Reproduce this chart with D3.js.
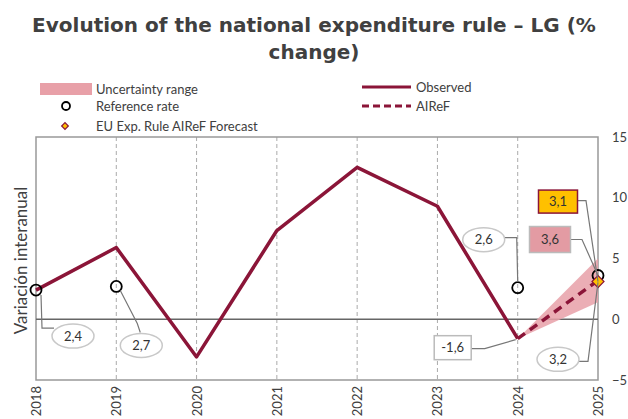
<!DOCTYPE html>
<html><head><meta charset="utf-8">
<script src="https://cdn.jsdelivr.net/npm/d3@7"></script>
<style>body{margin:0;background:#fff}svg{display:block}</style>
</head><body><svg id="c" width="628" height="419"></svg>
<script>
const years = [2018, 2019, 2020, 2021, 2022, 2023, 2024, 2025];
const observedYears = [2018, 2019, 2020, 2021, 2022, 2023, 2024];
const observed = [2.4, 5.9, -3.1, 7.3, 12.5, 9.3, -1.6];
const airefYears = [2024, 2025];
const airef = [-1.6, 3.2];
const bandLow = [-1.6, 1.4];
const bandHigh = [-1.6, 5.0];
const refYears = [2018, 2019, 2024, 2025];
const refRate = [2.4, 2.7, 2.6, 3.6];
const euYear = [2025];
const euForecast = [3.1];
const yTicks = [-5, 0, 5, 10, 15];

const svg = d3.select('#c');
const W = 628, H = 419;
const M = {l: 36, r: 30, t: 137, b: 39};
const x = d3.scaleLinear().domain([2018, 2025]).range([M.l, W - M.r]);
const y = d3.scaleLinear().domain([-5, 15]).range([H - M.b, M.t]);
const RED = '#8B1538', TXT = '#404040';
const FONT = 'Lato, "Open Sans", sans-serif';

// title
const title = svg.append('text').attr('text-anchor', 'middle').attr('fill', TXT)
  .attr('font-family', '"DejaVu Sans", sans-serif').attr('font-weight', 'bold').attr('font-size', 20);
title.append('tspan').attr('x', 314).attr('y', 32).text('Evolution of the national expenditure rule – LG (%');
title.append('tspan').attr('x', 314).attr('y', 59).text('change)');

// legend
const lg = svg.append('g').attr('font-family', FONT).attr('font-size', 13).attr('fill', TXT);
lg.append('rect').attr('x', 40).attr('y', 83).attr('width', 52).attr('height', 12).attr('fill', '#E8A0A8');
lg.append('text').attr('x', 96).attr('y', 94).text('Uncertainty range');
lg.append('circle').attr('cx', 66).attr('cy', 106).attr('r', 4).attr('fill', 'none').attr('stroke', '#000').attr('stroke-width', 1.8);
lg.append('text').attr('x', 96).attr('y', 111).text('Reference rate');
lg.append('path').attr('d', d3.symbol(d3.symbolSquare, 22)()).attr('transform', 'translate(65,126) rotate(45)')
  .attr('fill', '#FFC000').attr('stroke', RED).attr('stroke-width', 1.2);
lg.append('text').attr('x', 96).attr('y', 131).text('EU Exp. Rule AIReF Forecast');
lg.append('line').attr('x1', 362).attr('x2', 411).attr('y1', 87).attr('y2', 87).attr('stroke', RED).attr('stroke-width', 3);
lg.append('text').attr('x', 416).attr('y', 92).text('Observed');
lg.append('line').attr('x1', 362).attr('x2', 411).attr('y1', 106).attr('y2', 106).attr('stroke', RED).attr('stroke-width', 3).attr('stroke-dasharray', '7,4');
lg.append('text').attr('x', 416).attr('y', 111).text('AIReF');

// vertical dashed grid
svg.append('g').selectAll('line').data(years.slice(1, -1)).join('line')
  .attr('x1', d => x(d)).attr('x2', d => x(d)).attr('y1', M.t).attr('y2', H - M.b)
  .attr('stroke', '#AAAAAA').attr('stroke-width', 1).attr('stroke-dasharray', '4,3');

// frame
svg.append('rect').attr('x', M.l).attr('y', M.t).attr('width', W - M.r - M.l).attr('height', H - M.b - M.t)
  .attr('fill', 'none').attr('stroke', '#999').attr('stroke-width', 1.5);
// zero line
svg.append('line').attr('x1', M.l).attr('x2', W - M.r).attr('y1', y(0)).attr('y2', y(0))
  .attr('stroke', '#666').attr('stroke-width', 1.5);

// right axis labels
const yAxis = d3.axisRight(y).tickValues(yTicks).tickSize(0).tickPadding(14).tickFormat(d3.format('d'));
const ya = svg.append('g').attr('transform', `translate(${W - M.r},0)`).call(yAxis);
ya.select('.domain').remove();
ya.selectAll('text').attr('font-family', FONT).attr('font-size', 13).attr('fill', TXT);

// x axis labels rotated
const xAxis = d3.axisBottom(x).tickValues(years).tickSize(0).tickFormat(d3.format('d'));
const xa = svg.append('g').attr('transform', `translate(0,${H - M.b})`).call(xAxis);
xa.select('.domain').remove();
xa.selectAll('text').attr('font-family', FONT).attr('font-size', 13).attr('fill', TXT)
  .attr('transform', 'rotate(-90)').attr('text-anchor', 'end').attr('dy', '0.35em').attr('x', -6).attr('y', 0);

// y title
svg.append('text').attr('transform', `translate(27,${(M.t + H - M.b) / 2 + 2}) rotate(-90)`)
  .attr('text-anchor', 'middle').attr('font-family', FONT).attr('font-size', 17).attr('fill', TXT)
  .text('Variación interanual');

// uncertainty band
const band = airefYears.map((yr, i) => ({yr, lo: bandLow[i], hi: bandHigh[i]}));
svg.append('path').datum(band).attr('fill', '#E8A0A8').attr('opacity', 0.85)
  .attr('d', d3.area().x(d => x(d.yr)).y0(d => y(d.lo)).y1(d => y(d.hi)));

// observed line
const line = d3.line().x(d => x(d[0])).y(d => y(d[1]));
svg.append('path').datum(observedYears.map((yr, i) => [yr, observed[i]]))
  .attr('fill', 'none').attr('stroke', RED).attr('stroke-width', 3.5).attr('stroke-linejoin', 'round').attr('d', line);
svg.append('path').datum(airefYears.map((yr, i) => [yr, airef[i]]))
  .attr('fill', 'none').attr('stroke', RED).attr('stroke-width', 3.5).attr('stroke-dasharray', '9,6').attr('d', line);

// reference circles
svg.append('g').selectAll('circle').data(refYears.map((yr, i) => [yr, refRate[i]])).join('circle')
  .attr('cx', d => x(d[0])).attr('cy', d => y(d[1])).attr('r', 5.5)
  .attr('fill', 'none').attr('stroke', '#000').attr('stroke-width', 1.8);

// EU forecast diamond
svg.append('g').selectAll('path').data(euYear.map((yr, i) => [yr, euForecast[i]])).join('path')
  .attr('d', d3.symbol(d3.symbolSquare, 72)())
  .attr('transform', d => `translate(${x(d[0])},${y(d[1])}) rotate(45)`)
  .attr('fill', '#FFC000').attr('stroke', RED).attr('stroke-width', 1.2);

// annotations: value, data point, label offset (dx,dy) from point, shape
const fmt = v => String(v).replace('.', ',');
const ann = [
  {yr: 2018, v: refRate[0], dx: 37, dy: 46, shape: 'ell', lead: (p, c) => [[p[0] + 5, p[1] + 5], [p[0] + 6, c[1] - 8], [c[0] - 19, c[1] - 8]]},
  {yr: 2019, v: refRate[1], dx: 25, dy: 59, shape: 'ell', lead: (p, c) => [[p[0] + 4, p[1] + 4], [c[0] - 4, c[1] - 22], [c[0] - 1, c[1] - 13]]},
  {yr: 2024, v: refRate[2], dx: -34, dy: -48, shape: 'ell', lead: (p, c) => [[c[0] + 21, c[1] - 2], [p[0] - 1, c[1] - 2], [p[0], p[1] - 6]]},
  {yr: 2024, v: observed[6], dx: -65, dy: 9, shape: 'rect', w: 37, h: 24, lead: (p, c) => [[c[0] + 18.5, c[1] + 1], [c[0] + 32, c[1] + 1], [p[0] - 2, p[1] + 1]]},
  {yr: 2025, v: airef[1], dx: -40, dy: 79, shape: 'ell', lead: (p, c) => [[c[0] + 21, c[1] + 2], [c[0] + 30, c[1] + 2], [p[0], p[1] + 2]]},
  {yr: 2025, v: refRate[3], dx: -48, dy: -36, shape: 'rect', w: 41, h: 26, fill: '#E39BA3', stroke: '#BBBBBB', lead: (p, c) => [[c[0] + 20.5, c[1]], [c[0] + 32, c[1]], [p[0], p[1]]]},
  {yr: 2025, v: euForecast[0], dx: -40, dy: -80, shape: 'rect', w: 39, h: 23, fill: '#FFC000', stroke: RED, lead: (p, c) => [[c[0] + 19.5, c[1] - 1], [c[0] + 28, c[1] - 1], [p[0], p[1]]]}
];
const ag = svg.append('g');
ann.forEach(a => {
  const p = [x(a.yr), y(a.v)];
  const c = [p[0] + a.dx, p[1] + a.dy];
  ag.append('path').attr('d', d3.line()(a.lead(p, c))).attr('fill', 'none').attr('stroke', '#777').attr('stroke-width', 1.2);
  if (a.shape === 'ell') {
    ag.append('ellipse').attr('cx', c[0]).attr('cy', c[1]).attr('rx', 21).attr('ry', 12)
      .attr('fill', '#fff').attr('stroke', '#C8C8C8').attr('stroke-width', 1.5);
  } else {
    ag.append('rect').attr('x', c[0] - a.w / 2).attr('y', c[1] - a.h / 2).attr('width', a.w).attr('height', a.h)
      .attr('fill', a.fill || '#fff').attr('stroke', a.stroke || '#BBBBBB').attr('stroke-width', 1.5);
  }
  ag.append('text').attr('x', c[0]).attr('y', c[1]).attr('dy', '0.35em').attr('text-anchor', 'middle')
    .attr('font-family', FONT).attr('font-size', 13).attr('fill', '#333').text(fmt(a.v));
});
</script></body></html>
